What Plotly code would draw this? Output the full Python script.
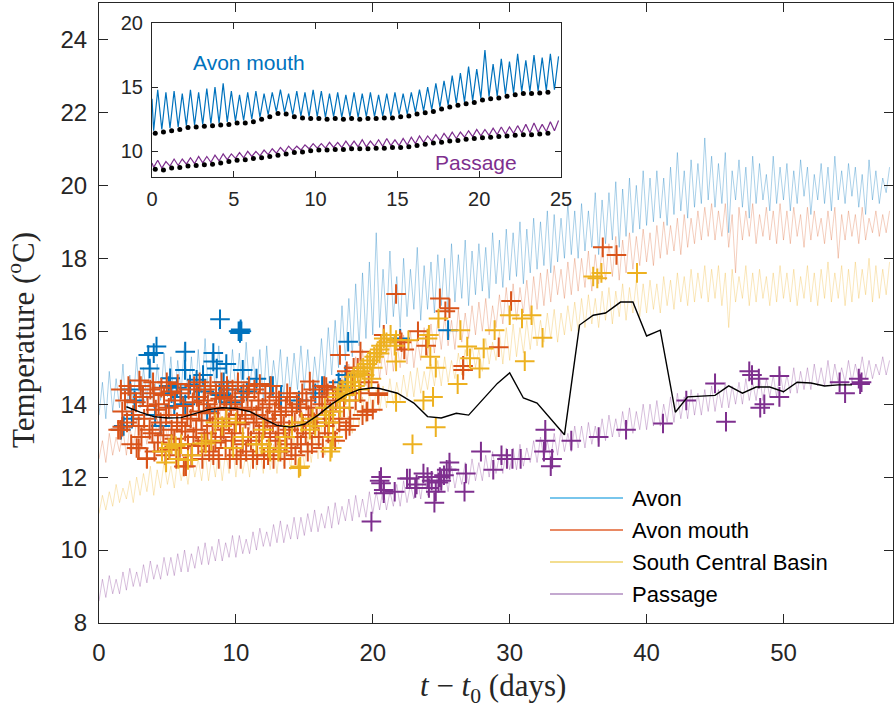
import plotly.graph_objects as go

# ---------------- main panel: background temperature records ----------------
# values read off the figure as alternating troughs / crests, two per day (t = 0 .. 58 d)
avon_lo = [13.7,13.6,13.8,13.9,13.7,14.0,13.9,14.1,13.9,14.1,
           14.2,14.0,14.3,14.2,14.0,14.3,14.2,14.4,14.1,14.3,
           14.3,14.1,14.4,14.3,14.1,14.3,14.4,14.2,14.3,14.4,
           14.4,14.2,14.5,14.6,14.8,15.0,15.2,15.3,15.6,15.8,
           15.9,16.1,16.2,16.4,16.1,16.4,16.6,16.3,16.6,16.5,
           16.7,16.5,16.8,16.9,16.7,17.0,17.1,16.9,17.3,17.2,
           17.4,17.5,17.3,17.6,17.7,17.8,17.6,17.9,18.0,18.1,
           18.0,18.2,18.3,18.1,18.4,18.5,18.3,18.6,18.7,18.8,
           18.9,19.0,19.1,18.9,19.2,19.3,19.1,19.4,19.5,19.6,
           19.4,19.5,18.7,19.6,19.4,19.1,19.5,19.6,19.3,19.5,
           19.6,19.3,19.5,19.7,19.2,19.6,19.5,19.3,19.6,19.5,
           19.7,19.4,19.2,19.6,19.5,19.8]
avon_hi = [14.6,14.9,14.7,15.1,14.8,15.3,15.0,15.2,15.1,15.4,
           15.3,15.2,15.7,15.3,15.5,15.8,15.4,15.6,15.2,15.5,
           15.4,15.7,15.3,15.5,15.6,15.2,15.5,15.3,15.4,15.6,
           15.5,15.3,15.8,16.1,16.3,16.7,16.9,17.3,17.6,17.9,
           18.7,17.7,18.2,17.5,18.0,17.7,18.3,17.8,17.9,18.1,
           18.0,18.4,18.1,18.5,18.2,18.4,18.3,18.7,18.5,18.8,
           18.7,19.0,18.8,19.1,19.0,19.3,19.2,19.1,19.5,19.3,
           19.5,19.3,19.8,19.6,19.8,20.1,19.9,20.2,20.0,20.4,
           20.2,20.4,20.2,20.5,20.9,20.4,20.7,20.6,21.3,20.8,
           20.6,20.9,20.4,20.7,20.5,20.8,20.6,20.3,20.8,20.5,
           20.6,20.4,20.7,20.5,20.3,20.6,20.5,20.8,20.4,20.6,
           20.5,20.3,20.7,20.4,20.2,20.5]
mouth_lo = [12.5,12.4,12.6,12.7,12.6,12.8,12.7,12.9,12.8,13.0,
            13.0,12.9,13.1,13.0,13.2,13.1,13.0,13.2,13.1,13.2,
            13.2,13.1,13.3,13.2,13.2,13.3,13.1,13.3,13.2,13.4,
            13.4,13.3,13.5,13.6,13.8,13.9,14.1,14.2,14.4,14.5,
            14.6,14.7,14.8,14.9,15.0,15.1,15.0,15.2,15.3,15.4,
            15.5,15.6,15.5,15.7,15.8,15.9,16.0,15.9,16.1,16.2,
            16.2,16.3,16.5,16.4,16.6,16.7,16.8,17.0,16.9,17.0,
            17.1,17.2,17.1,17.3,17.4,17.5,17.4,17.6,17.7,17.8,
            17.9,17.8,18.0,18.1,18.2,18.1,18.3,18.4,18.5,18.6,
            18.5,18.6,18.3,17.6,18.5,18.6,18.4,18.6,18.5,18.4,
            18.5,18.4,18.6,18.3,18.5,18.6,18.4,18.5,18.0,18.5,
            18.6,18.4,18.5,18.7,18.6,18.7]
mouth_hi = [13.0,13.2,13.1,13.3,13.4,13.6,13.5,13.7,13.6,13.8,
            13.9,13.7,14.0,13.8,14.1,13.9,14.0,14.2,13.9,14.1,
            14.0,14.2,13.9,14.1,14.0,14.2,13.9,14.1,14.2,14.0,
            14.2,14.1,14.4,14.5,14.7,14.9,15.1,15.3,15.5,15.4,
            15.6,15.5,15.8,15.7,15.9,16.0,15.8,16.1,16.2,16.3,
            16.4,16.3,16.6,16.5,16.7,16.8,16.9,16.7,17.0,17.2,
            17.3,17.2,17.4,17.5,17.6,17.7,17.8,17.7,17.9,18.0,
            18.0,18.2,18.1,18.3,18.4,18.6,18.5,18.7,18.6,18.8,
            18.7,18.9,19.0,18.9,19.1,19.2,19.1,19.3,19.4,19.5,
            19.3,19.5,19.2,19.4,19.3,19.5,19.2,19.4,19.3,19.5,
            19.3,19.4,19.2,19.4,19.3,19.1,19.3,19.4,19.2,19.3,
            19.2,19.4,19.1,19.3,19.2,19.3]
scb_lo = [11.0,11.1,11.2,11.3,11.4,11.3,11.5,11.6,11.5,11.7,
          11.8,11.7,11.9,11.8,12.0,11.9,11.9,12.0,11.9,12.1,
          12.0,12.1,12.0,12.2,12.1,12.2,12.1,12.3,12.2,12.3,
          12.3,12.4,12.5,12.6,12.7,12.9,13.1,13.2,13.4,13.5,
          13.7,13.8,13.9,14.0,14.1,14.2,14.2,14.3,14.4,14.5,
          14.5,14.6,14.7,14.8,14.9,15.0,14.9,15.1,15.2,15.1,
          15.2,15.3,15.4,15.5,15.6,15.7,15.8,15.7,15.9,16.0,
          16.0,16.1,16.2,16.1,16.3,16.2,16.4,16.3,16.5,16.4,
          16.5,16.6,16.5,16.7,16.6,16.8,16.7,16.8,16.9,16.8,
          16.9,16.7,16.1,16.8,16.9,16.7,16.8,16.9,16.7,16.8,
          16.9,16.8,16.7,16.9,16.8,16.7,16.9,16.8,16.9,16.7,
          16.8,16.9,17.0,16.8,16.9,17.0]
scb_hi = [11.5,11.6,11.8,11.7,11.9,12.0,12.1,12.3,12.2,12.4,
          12.3,12.5,12.4,12.6,12.5,12.7,12.6,12.8,12.7,12.9,
          12.8,12.7,12.9,12.8,13.0,12.9,13.0,12.9,13.1,13.0,
          13.1,13.2,13.4,13.5,13.6,13.8,13.9,14.1,14.2,14.3,
          14.4,14.5,14.7,14.6,14.8,14.9,15.0,14.9,15.1,15.2,
          15.3,15.2,15.4,15.5,15.6,15.5,15.8,15.7,16.0,16.1,
          16.2,16.1,16.3,16.4,16.3,16.5,16.6,16.5,16.7,16.8,
          16.9,17.0,16.9,17.1,17.2,17.1,17.3,17.2,17.4,17.3,
          17.4,17.3,17.5,17.4,17.6,17.5,17.7,17.6,17.8,17.7,
          17.8,17.6,17.7,17.5,17.8,17.6,17.7,17.5,17.6,17.8,
          17.6,17.7,17.5,17.8,17.6,17.7,17.9,17.6,17.8,17.7,
          17.9,17.7,18.0,17.8,17.7,17.9]
pas_lo = [8.6,8.7,8.8,8.8,8.9,9.0,9.0,9.1,9.2,9.2,
          9.3,9.3,9.4,9.4,9.5,9.6,9.6,9.7,9.7,9.8,
          9.8,9.9,9.9,10.0,10.1,10.1,10.2,10.2,10.3,10.3,
          10.4,10.5,10.5,10.6,10.6,10.7,10.8,10.8,10.9,10.9,
          11.0,11.1,11.1,11.2,11.2,11.3,11.4,11.4,11.5,11.5,
          11.6,11.6,11.7,11.8,11.8,11.9,11.9,12.0,12.1,12.1,
          12.2,12.2,12.3,12.4,12.4,12.5,12.5,12.6,12.7,12.7,
          12.8,12.8,12.9,12.9,13.0,13.1,13.1,13.2,13.2,13.3,
          13.3,13.4,13.4,13.5,13.5,13.6,13.6,13.7,13.7,13.8,
          13.8,13.9,13.9,14.0,14.0,14.1,14.1,14.1,14.2,14.2,
          14.3,14.3,14.3,14.4,14.4,14.5,14.5,14.5,14.6,14.6,
          14.6,14.7,14.7,14.7,14.8,14.8]
pas_hi = [9.2,9.3,9.2,9.4,9.5,9.4,9.6,9.7,9.6,9.8,
          9.8,9.9,10.0,9.9,10.1,10.2,10.1,10.3,10.2,10.4,
          10.4,10.3,10.5,10.6,10.5,10.7,10.8,10.7,10.9,10.9,
          11.0,11.1,11.0,11.2,11.3,11.2,11.4,11.5,11.4,11.6,
          11.6,11.7,11.6,11.8,11.9,11.8,12.0,12.1,12.0,12.2,
          12.2,12.3,12.2,12.4,12.5,12.4,12.6,12.7,12.6,12.8,
          12.8,12.9,12.8,13.0,13.1,13.0,13.2,13.3,13.2,13.4,
          13.4,13.5,13.4,13.6,13.7,13.6,13.8,13.9,13.8,14.0,
          14.0,14.1,14.0,14.2,14.3,14.2,14.4,14.3,14.4,14.5,
          14.4,14.6,14.5,14.6,14.7,14.6,14.8,14.7,14.8,14.9,
          14.8,15.0,14.9,15.0,15.1,15.0,15.2,15.1,15.0,15.2,
          15.1,15.3,15.2,15.1,15.3,15.2]

# ---------------- observations (t [days], temperature [degC]) ----------------
avon_obs = [(8.84,16.33),(10.2,16.0),(10.3,16.0),(10.4,16.0),(10.3,15.95),(10.35,16.05),
            (4.2,15.58),(3.6,15.35),(4.0,15.4),(3.7,14.98),(6.3,15.44),(8.35,15.4),(8.35,15.17),
            (9.3,15.1),(8.6,14.98),(6.28,14.94),(10.5,14.94),(5.2,14.71),(7.6,14.8),(7.13,14.67),
            (6.65,14.54),(5.1,14.5),(5.7,14.45),(2.27,14.4),(2.6,14.1),(2.4,13.6),(1.8,13.4),
            (1.6,13.3),(4.1,13.7),(5.5,13.95),(6.3,14.0),(7.3,14.2),(8.8,14.3),(9.1,14.6),
            (10.8,14.35),(12.5,14.5),(11.5,14.7),(12.7,14.5),(14.6,14.1),(16.3,14.5),(17.5,14.6),
            (18.0,14.8),(17.6,14.45),(18.2,15.71),(22.0,15.8),(25.5,16.03),(4.5,13.4),(3.2,14.2),
            (9.6,14.05),(7.9,13.8),(15.8,14.3),(13.3,14.2),(5.3,14.3),(6.0,14.2),(7.7,14.35),
            (8.9,14.25),(9.4,14.4),(10.4,14.2)]
mouth_cluster = [
    (1.55,13.3),(1.7,13.8),(1.6,14.4),(2.05,13.5),(1.9,14.1),(2.15,14.5),
    (2.35,12.9),(2.5,13.7),(2.3,14.3),(2.75,12.8),(2.9,13.4),(2.7,14.05),(2.95,14.65),
    (3.1,13.1),(3.3,13.6),(3.2,14.2),(3.05,14.5),(3.5,12.5),(3.7,13.3),(3.55,13.95),(3.75,14.4),
    (4.05,12.7),(3.9,13.2),(4.15,13.85),(4.0,14.3),(3.95,14.6),(4.3,12.95),(4.5,13.5),(4.35,14.0),
    (4.55,14.45),(4.85,12.6),(4.7,13.15),(4.9,13.7),(4.75,14.25),(4.95,14.6),
    (5.15,12.75),(5.3,13.3),(5.1,13.9),(5.25,14.35),(5.65,12.5),(5.5,13.05),(5.7,13.5),
    (5.55,14.1),(5.75,14.55),(5.9,12.8),(6.05,13.4),(6.15,13.95),(5.95,14.3),
    (6.35,12.3),(6.5,12.9),(6.3,13.25),(6.45,13.7),(6.55,14.4),(6.75,12.6),(6.9,13.1),
    (6.7,13.6),(6.85,14.05),(6.95,14.5),(7.25,12.85),(7.1,13.3),(7.3,13.8),(7.15,14.2),
    (7.35,14.6),(7.55,12.5),(7.7,13.0),(7.5,13.55),(7.65,14.1),(7.75,14.4),
    (8.05,12.7),(7.9,13.2),(8.1,13.75),(7.95,14.0),(8.15,14.5),(8.35,12.6),(8.5,12.95),
    (8.3,13.4),(8.45,13.9),(8.55,14.3),(8.75,12.5),(8.9,13.1),(8.7,13.6),(8.85,14.15),
    (8.95,14.6),(9.25,12.8),(9.1,13.3),(9.3,13.85),(9.15,14.2),(9.35,14.5),
    (9.55,12.5),(9.7,13.0),(9.5,13.5),(9.65,14.0),(9.75,14.4),(10.05,12.6),(9.9,13.2),
    (10.1,13.7),(9.95,14.1),(10.15,14.6),(10.35,12.5),(10.5,12.9),(10.3,13.45),(10.45,13.9),
    (10.55,14.3),(10.75,12.7),(10.9,13.1),(10.7,13.6),(10.85,14.2),(10.95,14.5),
    (11.25,12.5),(11.1,13.0),(11.3,13.5),(11.15,13.85),(11.35,14.4),(11.55,12.6),
    (11.7,13.2),(11.5,13.7),(11.65,14.1),(11.75,14.55),(12.05,12.5),(11.9,12.9),(12.1,13.4),
    (11.95,13.9),(12.15,14.3),(12.35,12.6),(12.5,13.1),(12.3,13.6),(12.45,14.0),(12.55,14.5),
    (12.75,12.5),(12.9,13.0),(12.7,13.5),(12.85,13.8),(12.95,14.2),(13.25,12.7),(13.1,13.2),
    (13.3,13.7),(13.15,14.1),(13.55,12.5),(13.7,12.9),(13.5,13.4),(13.65,13.9),(13.75,14.3),
    (14.05,12.8),(13.9,13.3),(14.1,13.8),(13.95,14.2),(14.35,12.6),(14.5,13.1),(14.3,13.5),
    (14.45,14.0),(14.75,12.9),(14.9,13.4),(14.7,13.9),(14.85,14.3),(15.25,12.7),(15.1,13.2),
    (15.3,13.7),(15.15,14.1),(15.55,12.9),(15.7,13.5),(15.5,13.9),(15.65,14.4),
    (16.05,13.1),(15.9,13.6),(16.1,14.2),(16.35,12.8),(16.5,13.4),(16.3,14.0),(16.45,14.5),
    (16.75,13.2),(16.9,13.8),(16.7,14.3),(17.25,13.0),(17.1,13.6),(17.3,14.1),
    (17.55,13.5),(17.7,14.4),(18.05,13.3),(17.9,13.9),(18.1,14.9),(18.35,13.6),(18.5,14.5),
    (18.75,14.1),(18.9,15.0),(19.25,13.7),(19.1,14.3),(19.55,13.8),(19.7,14.6)]
mouth_extra = [(3.5,12.52),(2.9,12.79),(6.2,12.29),(21.7,17.02),(24.9,16.9),(25.6,16.63),
               (25.3,16.55),(30.1,16.83),(29.2,15.56),(26.6,14.94),(26.6,15.05),(20.8,15.9),
               (22.1,15.7),(23.3,16.0),(23.9,15.6),(22.3,15.5),(17.6,15.35),(19.1,15.44),
               (18.6,15.0),(15.4,14.62),(16.6,14.47),(17.1,14.4),(20.4,14.25),(19.6,13.8),
               (20.0,13.85),(18.3,13.4),(22.0,15.76),(36.8,18.3),(37.8,18.09),(20.4,14.3),
               (1.4,13.3),(1.7,13.38)]
scb_obs = [(5.1,12.8),(5.3,12.9),(5.6,12.85),(6.0,12.9),(4.6,12.7),(6.5,12.47),(7.5,12.92),
           (7.8,12.92),(8.5,13.5),(9.3,13.6),(10.0,13.5),(9.0,13.4),(11.9,12.9),(12.4,12.8),
           (13.1,12.7),(14.6,12.25),(14.1,13.4),(14.8,13.5),(15.6,13.6),(16.8,13.5),(17.0,12.8),
           (16.5,13.9),(17.5,14.3),(18.2,14.6),(11.5,12.9),(12.5,12.7),(13.2,12.8),(14.7,12.29),
           (17.1,13.1),(16.9,12.7),(17.1,13.8),(16.6,13.7),(15.8,13.4),(15.4,13.3),(10.5,13.1),
           (8.2,13.0),(6.8,12.6),(5.8,12.5),(4.9,12.4),(12.0,13.3),(13.6,13.1),(9.8,12.8),
           (17.4,14.2),(17.8,14.4),(18.1,14.5),(18.4,14.6),(18.6,14.75),(18.9,14.85),(19.1,14.9),
           (19.3,15.0),(19.6,15.1),(19.8,15.2),(20.1,15.3),(20.3,15.4),(18.0,14.25),(18.7,14.5),
           (19.4,14.8),(20.0,15.0),(17.6,13.9),(18.3,14.1),(19.0,14.4),(20.5,15.5),(19.9,14.7),
           (20.6,15.6),(21.0,15.7),(20.8,15.8),
           (36.1,17.5),(36.7,17.6),(39.3,17.6),(30.0,16.44),(30.9,16.35),(31.6,16.44),(28.9,16.03),
           (32.4,15.82),(31.1,15.18),(24.8,16.35),(26.4,16.03),(24.0,15.8),(24.1,15.9),(21.7,15.76),
           (21.6,15.6),(22.6,15.75),(21.3,15.9),(26.9,15.58),(28.1,15.53),(24.2,15.3),(24.6,15.0),
           (27.8,14.98),(27.1,15.26),(26.2,14.55),(23.7,14.1),(24.4,14.2),(21.7,14.06),(24.6,13.37),
           (22.9,12.9),(20.5,15.39),(21.7,15.17),(36.4,17.45)]
pas_obs = [(20.5,11.9),(20.8,11.65),(21.6,11.6),(22.7,11.96),(22.5,11.96),(23.1,11.7),(23.7,12.1),
           (23.2,11.8),(24.1,11.7),(24.6,11.6),(24.5,11.3),(24.9,12.0),(25.2,12.05),(25.4,12.2),
           (25.6,12.4),(25.6,12.2),(24.8,11.85),(25.0,11.9),(26.7,11.6),(26.8,12.1),(27.9,12.7),
           (28.8,12.2),(29.4,12.6),(29.8,12.5),(30.2,12.5),(30.8,12.5),(32.6,13.3),(32.6,13.0),
           (32.5,12.7),(33.1,12.5),(33.0,12.3),(34.5,13.0),(36.5,13.1),(38.5,13.3),(41.2,13.47),
           (42.9,14.1),(45.0,14.57),(45.8,13.52),(47.5,14.9),(47.7,14.8),(48.2,14.7),(49.7,14.77),
           (48.6,14.0),(48.3,13.9),(49.7,14.2),(54.1,14.6),(54.5,14.3),(55.5,14.7),(55.6,14.55),
           (55.7,14.6),(20.6,12.0),(20.6,11.83),(20.8,11.56),(19.9,10.78),(24.3,11.9),(24.0,12.0)]

# black reference curve
black_t = [2,3,4,5,6,7,8,9,10,11,12,13,14,15,16,17,18,19,20,20.5,21.8,23,24,25,26.1,27,
           29.1,30,31,32,34,35.1,36.1,37,38.1,39,40,41,42.1,43,45,46,47,48,49,50,51,52,53,54,55]
black_T = [13.93,13.78,13.66,13.62,13.63,13.74,13.85,13.9,13.88,13.8,13.6,13.42,13.37,13.45,
           13.7,14.0,14.25,14.4,14.45,14.43,14.3,14.03,13.66,13.62,13.75,13.7,14.57,14.86,14.17,
           14.03,13.16,16.17,16.44,16.5,16.8,16.8,15.87,16.03,13.78,14.2,14.24,14.5,14.3,14.47,
           14.47,14.34,14.6,14.58,14.5,14.53,14.53]

# ---------------- inset (first 25 days) ----------------
in_mouth_lo = [11.6,11.7,11.8,11.9,12.0,12.05,12.1,12.15,12.2,12.3,
               12.35,12.4,12.5,12.65,12.85,13.1,13.05,12.85,12.75,12.7,
               12.7,12.65,12.7,12.65,12.7,12.65,12.7,12.7,12.75,12.75,
               12.85,12.9,13.05,13.15,13.25,13.45,13.6,13.75,13.85,13.95,
               14.15,14.25,14.3,14.45,14.55,14.65,14.65,14.7,14.75,14.8]
in_mouth_hi = [14.8,14.6,14.7,14.5,14.8,14.6,14.9,15.0,15.3,14.7,
               14.4,14.6,14.7,14.5,14.6,14.8,14.5,14.7,14.6,14.8,
               14.7,14.5,14.6,14.4,14.6,14.5,14.6,14.4,14.5,14.6,
               14.5,14.6,14.8,15.0,15.3,15.5,15.9,16.1,16.6,16.4,
               17.9,16.8,17.2,17.0,17.6,17.1,17.5,17.3,17.6,17.4]
in_mouth_min = [11.4,11.5,11.6,11.7,11.85,11.9,11.95,12.0,12.05,12.1,
                12.2,12.2,12.3,12.5,12.7,12.95,12.9,12.7,12.6,12.55,
                12.55,12.5,12.55,12.5,12.55,12.5,12.55,12.55,12.6,12.6,
                12.7,12.75,12.9,13.0,13.1,13.3,13.45,13.6,13.7,13.8,
                14.0,14.1,14.15,14.3,14.4,14.5,14.5,14.55,14.6]
in_pas_lo = [8.75,8.7,8.85,8.9,9.0,9.05,9.1,9.15,9.25,9.35,
             9.45,9.5,9.6,9.65,9.75,9.85,9.95,10.05,10.1,10.2,
             10.25,10.25,10.3,10.3,10.35,10.35,10.35,10.4,10.4,10.45,
             10.45,10.5,10.6,10.7,10.8,10.85,10.95,11.0,11.1,11.15,
             11.2,11.25,11.3,11.35,11.4,11.45,11.45,11.5,11.55,11.6]
in_pas_hi = [9.3,9.2,9.4,9.4,9.5,9.6,9.6,9.7,9.8,9.8,
             9.9,10.0,10.0,10.1,10.2,10.3,10.4,10.4,10.5,10.6,
             10.6,10.7,10.7,10.8,10.8,10.9,10.8,10.9,11.0,10.9,
             11.0,11.1,11.2,11.2,11.3,11.4,11.5,11.5,11.6,11.7,
             11.7,11.8,11.9,11.9,12.0,12.1,12.2,12.1,12.3,12.4]
in_pas_min = [8.6,8.55,8.7,8.75,8.85,8.9,8.95,9.0,9.1,9.2,
              9.3,9.35,9.45,9.5,9.6,9.7,9.8,9.9,9.95,10.05,
              10.1,10.1,10.15,10.15,10.2,10.2,10.2,10.25,10.25,10.3,
              10.3,10.35,10.45,10.55,10.65,10.7,10.8,10.85,10.95,11.0,
              11.05,11.1,11.15,11.2,11.25,11.3,11.3,11.35,11.4]

xticks_main = [0, 10, 20, 30, 40, 50]
yticks_main = [8, 10, 12, 14, 16, 18, 20, 22, 24]
xticks_inset = [0, 5, 10, 15, 20, 25]
yticks_inset = [10, 15, 20]

BLUE, ORANGE, YELLOW, PURPLE = '#0072BD', '#D95319', '#EDB120', '#7E2F8E'
AXC = '#262626'


def zigzag(lo, hi, step=0.5, t0=0.0, start=None):
    xs, ys = [], []
    if start is not None:
        xs.append(0.0)
        ys.append(start)
    for k, (a, b) in enumerate(zip(lo, hi)):
        xs += [t0 + step * k, t0 + step * k + step / 2]
        ys += [a, b]
    return xs, ys


fig = go.Figure()

for lo, hi, col in [(avon_lo, avon_hi, 'rgba(0,114,189,0.33)'),
                    (mouth_lo, mouth_hi, 'rgba(217,83,25,0.28)'),
                    (scb_lo, scb_hi, 'rgba(237,177,32,0.30)'),
                    (pas_lo, pas_hi, 'rgba(126,47,142,0.30)')]:
    xs, ys = zigzag(lo, hi)
    fig.add_trace(go.Scatter(x=xs, y=ys, mode='lines', line=dict(color=col, width=1),
                             showlegend=False, hoverinfo='skip'))

mouth_obs = mouth_cluster + mouth_extra


def plus(pts, col):
    return go.Scatter(x=[p[0] for p in pts], y=[p[1] for p in pts], mode='markers',
                      marker=dict(symbol='cross-thin', size=14, color=col,
                                  line=dict(color=col, width=2)),
                      showlegend=False)


fig.add_trace(plus(avon_obs, BLUE))
fig.add_trace(plus(mouth_obs, ORANGE))
fig.add_trace(plus(scb_obs, YELLOW))
fig.add_trace(plus(pas_obs, PURPLE))

fig.add_trace(go.Scatter(x=black_t, y=black_T, mode='lines', line=dict(color='black', width=1.4),
                         showlegend=False))

# inset
xs, ys = zigzag(in_mouth_lo, in_mouth_hi, t0=0.1, start=14.1)
fig.add_trace(go.Scatter(x=xs, y=ys, mode='lines', line=dict(color=BLUE, width=1.2),
                         xaxis='x2', yaxis='y2', showlegend=False))
xs, ys = zigzag(in_pas_lo, in_pas_hi, t0=0.1, start=9.1)
fig.add_trace(go.Scatter(x=xs, y=ys, mode='lines', line=dict(color=PURPLE, width=1.2),
                         xaxis='x2', yaxis='y2', showlegend=False))
dot_t = [0.2 + 0.5 * k for k in range(len(in_mouth_min))]
fig.add_trace(go.Scatter(x=dot_t, y=in_mouth_min, mode='markers',
                         marker=dict(color='black', size=5), xaxis='x2', yaxis='y2',
                         showlegend=False))
fig.add_trace(go.Scatter(x=dot_t, y=in_pas_min, mode='markers',
                         marker=dict(color='black', size=5), xaxis='x2', yaxis='y2',
                         showlegend=False))

# plot-area pixel helpers (plot area: x 99..893, y 3..623)
L, R, T, B = 99, 893, 3, 623


def px(x):
    return (x - L) / (R - L)


def py(y):
    return (B - y) / (B - T)


axis_common = dict(showline=True, linecolor=AXC, linewidth=1, mirror='ticks', ticks='inside',
                   tickcolor=AXC, showgrid=False, zeroline=False, automargin=False)

fig.update_layout(
    width=896, height=714,
    margin=dict(l=L, r=896 - R, t=T, b=714 - B, autoexpand=False),
    plot_bgcolor='white', paper_bgcolor='white',
    font=dict(family='Liberation Sans, Arial, sans-serif', color=AXC),
    xaxis=dict(range=[0, 58], tickvals=xticks_main, ticklen=9,
               tickfont=dict(size=24, color=AXC), ticklabelstandoff=8, **axis_common),
    yaxis=dict(range=[8, 25], tickvals=yticks_main, ticklen=9,
               tickfont=dict(size=24, color=AXC), ticklabelstandoff=6, **axis_common),
    xaxis2=dict(domain=[px(152), px(561)], anchor='y2', range=[0, 25], tickvals=xticks_inset,
                ticklen=6, tickfont=dict(size=20, color=AXC), ticklabelstandoff=4, **axis_common),
    yaxis2=dict(domain=[py(177), py(23)], anchor='x2', range=[8, 20], tickvals=yticks_inset,
                ticklen=6, tickfont=dict(size=20, color=AXC), ticklabelstandoff=4, **axis_common),
    showlegend=False,
)

annotations = [
    dict(text='Temperature (<sup>o</sup>C)', xref='paper', yref='paper', x=px(22), y=py(340),
         textangle=-90, showarrow=False, font=dict(family='Liberation Serif, serif', size=31, color=AXC),
         xanchor='center', yanchor='middle'),
    dict(text='<i>t</i> \u2212 <i>t</i><sub>0</sub> (days)', xref='paper', yref='paper',
         x=px(493), y=py(688), showarrow=False,
         font=dict(family='Liberation Serif, serif', size=31, color=AXC),
         xanchor='center', yanchor='middle'),
    dict(text='Avon mouth', xref='x2', yref='y2', x=5.9, y=16.95, showarrow=False,
         font=dict(size=21, color=BLUE), xanchor='center', yanchor='middle'),
    dict(text='Passage', xref='x2', yref='y2', x=19.8, y=9.15, showarrow=False,
         font=dict(size=21, color=PURPLE), xanchor='center', yanchor='middle'),
]

# legend drawn by hand (long sample lines as in the original)
legend_names = ['Avon', 'Avon mouth', 'South Central Basin', 'Passage']
legend_cols = ['#4DB3E6', '#E2622F', '#EFD36B', '#B08CC0']
shapes = []
for i, (name, col) in enumerate(zip(legend_names, legend_cols)):
    yy = 498 + 32 * i
    shapes.append(dict(type='line', xref='paper', yref='paper', x0=px(550), x1=px(623),
                       y0=py(yy), y1=py(yy), line=dict(color=col, width=1.5)))
    annotations.append(dict(text=name, xref='paper', yref='paper', x=px(630), y=py(yy),
                            showarrow=False, xanchor='left', yanchor='middle',
                            font=dict(size=22, color='black')))

fig.update_layout(annotations=annotations, shapes=shapes)

fig.write_html('out.html', config={'displayModeBar': False},
               post_script="document.body.style.margin='0';document.body.style.overflow='hidden';")
